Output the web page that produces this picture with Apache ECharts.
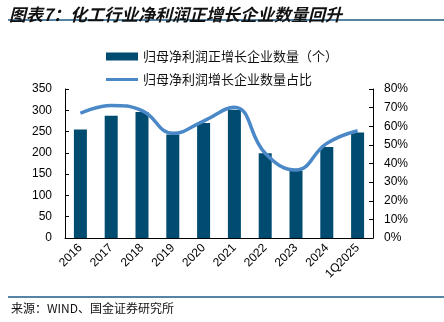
<!DOCTYPE html>
<html>
<head>
<meta charset="utf-8">
<script src="https://cdn.jsdelivr.net/npm/echarts@6/dist/echarts.min.js"></script>
<style>
  html, body { margin: 0; padding: 0; background: #fff; }
  #chart { width: 444px; height: 322px; }
</style>
</head>
<body>
<div id="chart"></div>
<script>
// Categories and values
const years = ['2016', '2017', '2018', '2019', '2020', '2021', '2022', '2023', '2024', '1Q2025'];
const positiveCount = [255, 287, 296, 243, 270, 301, 199, 158, 214, 248];
const positiveShare = [67.0, 71.2, 68.4, 56.2, 62.8, 70.2, 45.5, 36.5, 50.8, 57.6];

const barName = '归母净利润正增长企业数量（个）';
const lineName = '归母净利润增长企业数量占比';
const barColor = '#004b70';
const lineColor = '#4a88c8';
const axisFont = { fontFamily: 'Liberation Sans, Arial, sans-serif', fontSize: 12, color: '#000' };
const cjk = '"Noto Sans CJK SC", sans-serif';

const chart = echarts.init(document.getElementById('chart'), null, { renderer: 'canvas' });
chart.setOption({
  animation: false,
  backgroundColor: '#fff',
  title: {
    text: '图表7：化工行业净利润正增长企业数量回升',
    left: 4, top: 1,
    textStyle: { fontFamily: cjk, fontSize: 17, fontWeight: 'bold', fontStyle: 'italic', color: '#111' }
  },
  legend: [
    {
      data: [{ name: barName, icon: 'rect' }],
      left: 101, top: 45,
      itemWidth: 32, itemHeight: 8, itemGap: 4,
      textStyle: { fontFamily: cjk, fontSize: 13, color: '#111' }
    },
    {
      data: [{ name: lineName, icon: 'rect' }],
      left: 101, top: 68,
      itemWidth: 32, itemHeight: 3,
      textStyle: { fontFamily: cjk, fontSize: 13, color: '#111', padding: [0, 0, 0, 0] }
    }
  ],
  grid: { left: 65, right: 71, top: 89, bottom: 84 },
  xAxis: {
    type: 'category',
    data: years,
    boundaryGap: true,
    axisLine: { lineStyle: { color: '#000', width: 1 } },
    axisTick: { inside: true, length: 4, lineStyle: { color: '#000' } },
    axisLabel: Object.assign({ rotate: 45, margin: 8, interval: 0 }, axisFont)
  },
  yAxis: [
    {
      type: 'value', min: 0, max: 350, interval: 50,
      axisLine: { show: true, lineStyle: { color: '#000' } },
      axisTick: { show: true, inside: true, length: 4, lineStyle: { color: '#000' } },
      splitLine: { show: false },
      axisLabel: Object.assign({ margin: 13 }, axisFont)
    },
    {
      type: 'value', min: 0, max: 80, interval: 10,
      axisLine: { show: true, lineStyle: { color: '#000' } },
      axisTick: { show: true, inside: true, length: 4, lineStyle: { color: '#000' } },
      splitLine: { show: false },
      axisLabel: Object.assign({ margin: 11, formatter: '{value}%' }, axisFont)
    }
  ],
  series: [
    {
      name: barName,
      type: 'bar',
      data: positiveCount,
      barWidth: 13,
      itemStyle: { color: barColor }
    },
    {
      name: lineName,
      type: 'line',
      yAxisIndex: 1,
      data: positiveShare,
      smooth: 0.45,
      symbol: 'none',
      lineStyle: { color: lineColor, width: 3.5 },
      itemStyle: { color: lineColor }
    }
  ],
  graphic: [
    { type: 'line', shape: { x1: 8, y1: 20, x2: 444, y2: 20 }, style: { stroke: '#1f5a86', lineWidth: 1.5 } },
    { type: 'line', shape: { x1: 8, y1: 297, x2: 444, y2: 297 }, style: { stroke: '#1f5a86', lineWidth: 1.5 } },
    {
      type: 'text', left: 11, top: 302,
      style: { text: '来源：WIND、国金证券研究所', font: '12px "Noto Sans CJK SC", sans-serif', fill: '#111' }
    }
  ]
});
</script>
</body>
</html>
